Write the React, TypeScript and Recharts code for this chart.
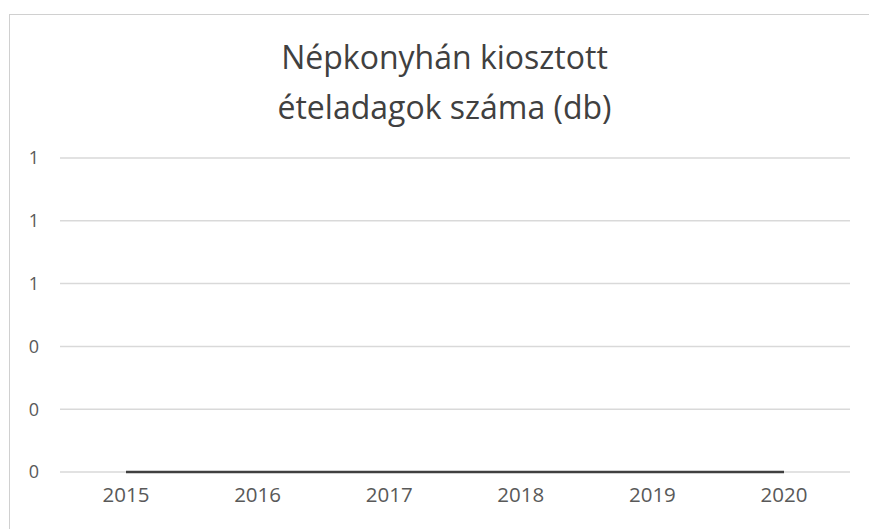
import React from "react";
import { LineChart, Line, XAxis, YAxis, CartesianGrid } from "recharts";

const years = ["2015", "2016", "2017", "2018", "2019", "2020"];
const portions = [0, 0, 0, 0, 0, 0];
const yTicks = [0, 0.2, 0.4, 0.6, 0.8, 1];
const titleLines = ["Népkonyhán kiosztott", "ételadagok száma (db)"];

const data = years.map((y, i) => ({ year: y, value: portions[i] }));

export default function App() {
  return (
    <div style={{ position: "fixed", left: 0, top: 0, width: 869, height: 529, background: "#fff", overflow: "hidden" }}>
      <div
        style={{
          position: "absolute",
          left: 9,
          top: 14,
          width: 880,
          height: 540,
          border: "1.5px solid #d0d0d0",
          boxSizing: "border-box",
        }}
      />
      <div
        style={{
          position: "absolute",
          left: 0,
          top: 32,
          width: 889,
          textAlign: "center",
          fontFamily: "'Open Sans', sans-serif",
          fontSize: 32,
          lineHeight: "50px",
          color: "#404040",
        }}
      >
        {titleLines.map((t) => (
          <div key={t}>{t}</div>
        ))}
      </div>
      <div style={{ position: "absolute", left: 0, top: 0 }}>
        <LineChart width={869} height={529} data={data} margin={{ top: 158, right: 19, bottom: 17, left: 0 }}>
          <CartesianGrid horizontal vertical={false} stroke="#d9d9d9" strokeWidth={1.5} />
          <XAxis
            dataKey="year"
            axisLine={false}
            tickLine={false}
            padding={{ left: 66, right: 66 }}
            tickMargin={9}
            height={40}
            tick={{ fill: "#595959", fontSize: 20.5, fontFamily: "'Open Sans', sans-serif" }}
          />
          <YAxis
            domain={[0, 1]}
            ticks={yTicks}
            axisLine={false}
            tickLine={false}
            width={60}
            tickMargin={15}
            tickFormatter={(v: number) => String(Math.round(v))}
            tick={{ fill: "#595959", fontSize: 18, fontFamily: "'Open Sans', sans-serif" }}
          />
          <Line
            type="linear"
            dataKey="value"
            stroke="#404040"
            strokeWidth={2.5}
            dot={false}
            isAnimationActive={false}
          />
        </LineChart>
      </div>
    </div>
  );
}
